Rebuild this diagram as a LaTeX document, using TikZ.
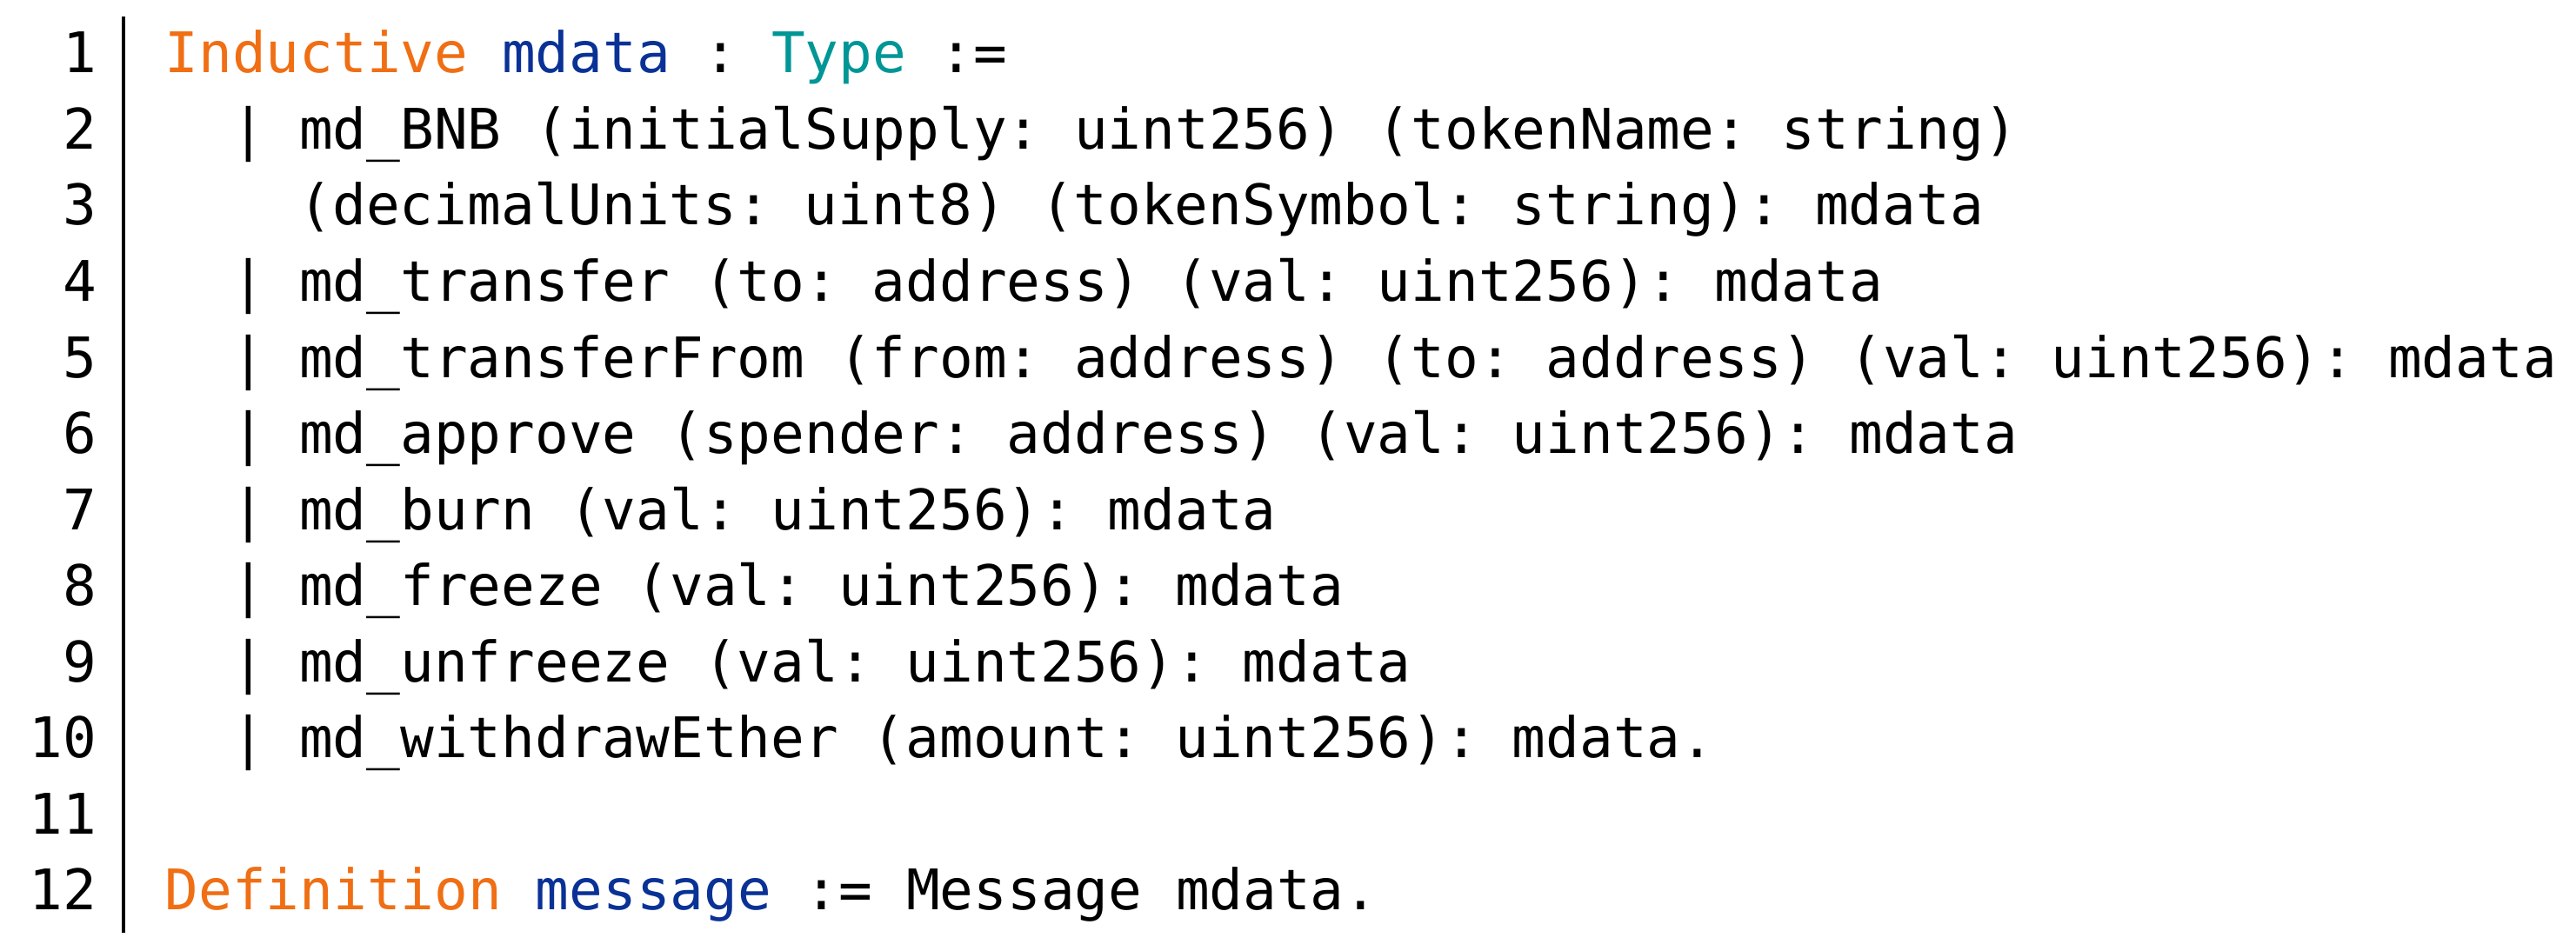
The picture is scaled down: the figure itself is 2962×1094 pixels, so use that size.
\documentclass[tikz,border=0pt]{standalone}
\usepackage{fontspec}
\setmonofont{DejaVu Sans Mono}
\usetikzlibrary{positioning}
\definecolor{kwOrange}{RGB}{240,110,20}
\definecolor{idBlue}{RGB}{10,50,150}
\definecolor{tyTeal}{RGB}{0,150,150}
\newcommand{\kw}[1]{\textcolor{kwOrange}{#1}}
\newcommand{\idn}[1]{\textcolor{idBlue}{#1}}
\newcommand{\ty}[1]{\textcolor{tyTeal}{#1}}
\begin{document}
\begin{tikzpicture}[x=0.01cm,y=-0.01cm]
    % Define some common styles
    \tikzset{
        code/.style={anchor=base west, inner sep=0pt, font=\ttfamily\fontsize{18.3}{20}\selectfont},
        lineno/.style={anchor=base east, inner sep=0pt, font=\ttfamily\fontsize{18.3}{20}\selectfont},
        gutter/.style={line width=1.3pt}
    }
    \useasboundingbox (0,0) rectangle (2962,1094);

    % Line numbers
    \foreach \i in {1,...,12}
        \node[lineno] (n\i) at (112,{72+(\i-1)*87.5+12}) {\i};

    % Gutter rule
    \coordinate (gtop) at (142,19);
    \coordinate (gbot) at (142,1073);
    \draw[gutter] (gtop) -- (gbot);

    % Code lines (x = 189 + column * 38.5)
    \node[code] (l1) at (189,84) {\kw{Inductive} \idn{mdata} : \ty{Type} :=};
    \node[code] (l2) at (266,171.5) {| md\_BNB (initialSupply: uint256) (tokenName: string)};
    \node[code] (l3) at (343,259) {(decimalUnits: uint8) (tokenSymbol: string): mdata};
    \node[code] (l4) at (266,346.5) {| md\_transfer (to: address) (val: uint256): mdata};
    \node[code] (l5) at (266,434) {| md\_transferFrom (from: address) (to: address) (val: uint256): mdata};
    \node[code] (l6) at (266,521.5) {| md\_approve (spender: address) (val: uint256): mdata};
    \node[code] (l7) at (266,609) {| md\_burn (val: uint256): mdata};
    \node[code] (l8) at (266,696.5) {| md\_freeze (val: uint256): mdata};
    \node[code] (l9) at (266,784) {| md\_unfreeze (val: uint256): mdata};
    \node[code] (l10) at (266,871.5) {| md\_withdrawEther (amount: uint256): mdata.};
    \node[code] (l12) at (189,1046.5) {\kw{Definition} \idn{message} := Message mdata.};
\end{tikzpicture}
\end{document}
